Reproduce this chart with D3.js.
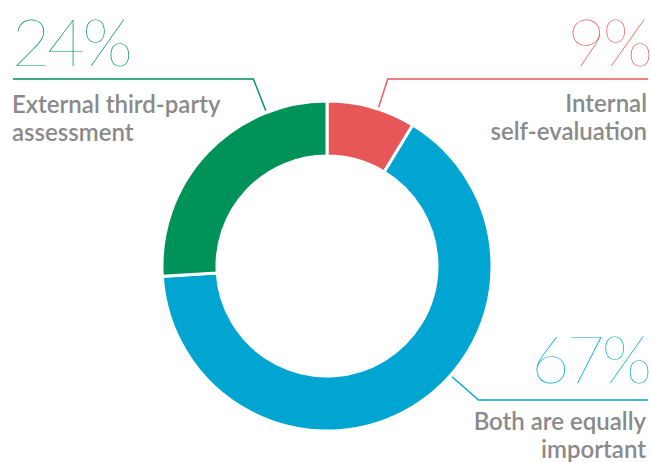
<!DOCTYPE html>
<html>
<head>
<meta charset="utf-8">
<script src="https://cdn.jsdelivr.net/npm/d3@7"></script>
<style>
  html, body { margin: 0; padding: 0; background: #fff; }
  svg { display: block; }
</style>
</head>
<body>
<svg id="chart" width="651" height="463"></svg>
<script>
// answer categories, clockwise from 12 o'clock
var categories = ["Internal self-evaluation", "Both are equally important", "External third-party assessment"];
// printed percentages
var percents = [9, 67, 24];
// share of the ring each arc covers as drawn in the picture
var arcShares = [8.7, 65.3, 26];
// label lines
var labelLines = [["Internal", "self-evaluation"], ["Both are equally", "important"], ["External third-party", "assessment"]];
var colors = ["#e85757", "#00a6d1", "#009359"];

var width = 651, height = 463;
var cx = 327, cy = 266;
var outerR = 165, innerR = 110;

// where each callout sits (index matches categories)
var layout = [
  {angle: 18,    lineY: 79,  endX: 648, anchor: "end",   x: 647, numY: 66,  textY: 112},
  {angle: 131.5, lineY: 400, endX: 648, anchor: "end",   x: 646, numY: 383, textY: 430},
  {angle: 338.5, lineY: 79,  endX: 13,  anchor: "start", x: 12,  numY: 66,  textY: 113}
];

var svg = d3.select("#chart");

var pie = d3.pie().sort(null).value(function(d) { return d; });
var arc = d3.arc().innerRadius(innerR).outerRadius(outerR);

var ring = svg.append("g").attr("transform", "translate(" + cx + "," + cy + ")");
ring.selectAll("path")
  .data(pie(arcShares))
  .enter().append("path")
  .attr("d", arc)
  .attr("fill", function(d, i) { return colors[i]; })
  .attr("stroke", "#fff")
  .attr("stroke-width", 3);

// callouts
var rad = Math.PI / 180;
categories.forEach(function(c, i) {
  var L = layout[i];
  var a = L.angle * rad;
  var sx = cx + 167 * Math.sin(a), sy = cy - 167 * Math.cos(a);
  var r2 = (L.lineY - cy) / (-Math.cos(a));
  var ex = cx + r2 * Math.sin(a);
  svg.append("path")
    .attr("d", d3.line()([[sx, sy], [ex, L.lineY], [L.endX, L.lineY]]))
    .attr("fill", "none")
    .attr("stroke", colors[i])
    .attr("stroke-width", 1.4);

  svg.append("text")
    .attr("x", L.anchor == "end" ? L.x + 3 : L.x)
    .attr("y", L.numY)
    .attr("text-anchor", L.anchor)
    .style("font-family", "Lato, sans-serif")
    .style("font-weight", 100)
    .style("font-size", "66px")
    .style("letter-spacing", "-3px")
    .attr("fill", colors[i])
    .text(percents[i] + "%");

  var t = svg.append("text")
    .attr("text-anchor", L.anchor)
    .style("font-family", "Lato, sans-serif")
    .style("font-weight", 600)
    .style("font-size", "24px")
    .attr("fill", "#8a8a8a");
  labelLines[i].forEach(function(s, j) {
    t.append("tspan").attr("x", L.x).attr("y", L.textY + j * 28).text(s);
  });
});
</script>
</body>
</html>
